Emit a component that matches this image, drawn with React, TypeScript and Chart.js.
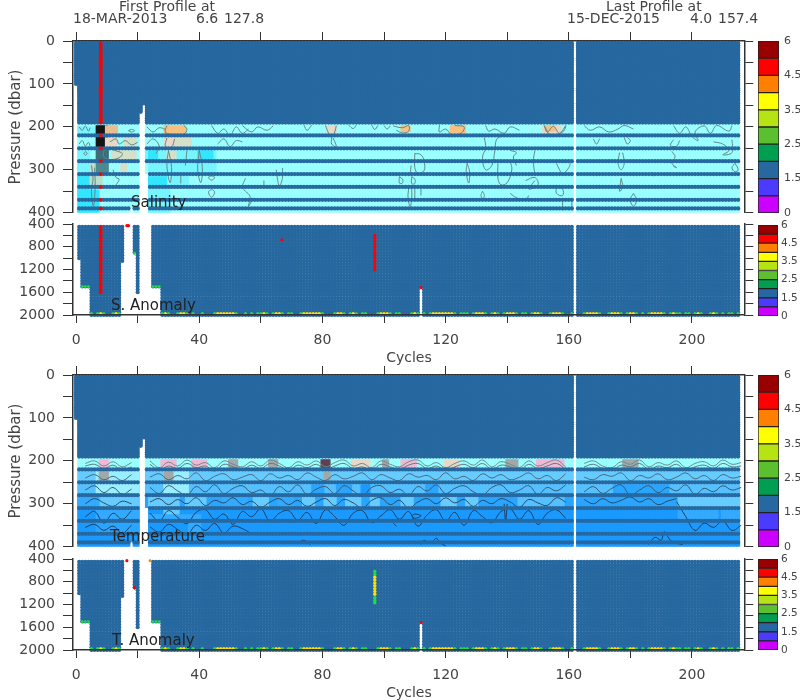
import React, { useEffect, useRef } from "react";
import { Chart, registerables } from "chart.js";
Chart.register(...registerables);

// ---------- data ----------
const firstCycle = 0;
const lastCycle = 215;
const gapCycles = [162];
const upperSolidLevels = [5,10,15,20,25,30,35,40,45,50,55,60,65,70,75,80,85,90,95,100,105,110,115,120,125,130,135,140,145,150,155,160,165,170,175,180,185,190];
const upperSparseLevels = [220,250,280,310,340,370,390];
const lowerLevels = [450,500,550,600,650,700,750,800,850,900,950,1000,1050,1100,1150,1200,1250,1300,1350,1400,1450,1500,1550,1600,1650,1700,1750,1800,1850,1900,1950];
const lowerBottomLevel = 2000;
const bottomStripLevel = 1975;
// deepest pressure reached by the cycles that do not reach the axis floor
const upperDepthLimits: Record<number, number> = { 0: 100, 18: 385, 21: 165, 22: 145, 23: 305 };
const lowerDepthLimits: Record<number, number> = { 0: 0, 1: 1020, 2: 1500, 3: 1500, 4: 1500, 15: 1085, 16: 420, 17: 420, 18: 0, 19: 914, 20: 1615, 21: 0, 22: 0, 23: 0, 24: 430, 25: 1500, 26: 1500, 27: 1500, 112: 1520 };

const salinityRedCycle = [8];
const salinityDeepRed: number[] = [450,500,550,600,650,700,750,800,850,900,950,1000,1050,1100,1150,1200,1250,1300,1350,1400,1450,1500,1550,1600];
const salinityRedColumn97 = [600,650,700,750,800,850,900,950,1000,1050,1100,1150,1200];
const salinityRedDots = [[66.8, 680], [112, 1520], [16.5, 430], [17, 430]];
const tempGreenColumn97 = [620,670,1080,1130,1170];
const tempYellowColumn97 = [720,770,820,870,920,970,1020];
const tempRedDots = [[112, 1520], [16.5, 430], [19, 905]];
const tempOrangeDots = [[24, 430]];
const shelfGreenDots = [[2,1500],[3,1500],[4,1500],[25,1500],[26,1500],[27,1500],[19,914]];
const bottomSegments = [[5,5],[7,9],[12,14],[28,30],[33,36],[38,38],[41,41],[45,52],[55,55],[57,57],[59,59],[60,62],[64,67],[69,70],[73,80],[84,87],[89,91],[93,94],[98,102],[104,105],[109,111],[113,113],[115,123],[125,126],[127,127],[129,133],[135,137],[139,143],[145,146],[148,151],[154,158],[161,161],[165,170],[173,177],[179,182],[184,184],[186,191],[193,195],[196,196],[198,199],[201,203],[206,208],[210,210],[212,213],[215,215]];

const paleCyan = "#99FFFF", midCyan = "#77F5FF", brightCyan = "#33E6FF";
const pale = "#99EEFF", light = "#66CCFF", mid = "#55C0FF", deep = "#2AA5FF", deepest = "#1A99FF", midLow = "#33AAFF";
const tan = "#E6BE90", orangeTan = "#F5C080", beige = "#D5E0C8", black = "#151515", teal = "#3A6E78", teal2 = "#4A8A90", grayCream = "#BBDDCC";
const pink = "#F0B8D4", grayPatch = "#A0A8A8", darkPatch = "#604050", cream = "#E6D9C8";

const salinityBands: [number, number, string][] = [[195, 404, paleCyan]];
const salinityPatches: [number, number, number, number, string][] = [
  [1,6,200,220,midCyan],[1,4,255,280,midCyan],[1,6,285,345,midCyan],[1,5,312,340,brightCyan],[1,7,345,404,brightCyan],[5,7,285,345,grayCream],
  [22,29,255,280,midCyan],[24,30,285,310,midCyan],[29,45,255,280,midCyan],[30,45,285,310,midCyan],[40,44,255,280,brightCyan],[24,29,316,340,brightCyan],[24,30,345,404,midCyan],[31,36,316,340,midCyan],[24,26,255,280,brightCyan],
  [7,10,197,220,black],[7,10,222,250,black],[7,10,252,280,teal],[7,10,283,310,teal2],[7,8,312,345,grayCream],
  [10,13,197,220,tan],[10,13,225,250,cream],[12,19,255,280,beige],[15,16,285,310,beige],[16,19,225,250,beige],
  [29,35,197,220,orangeTan],[29,33,225,250,cream],[33,37,225,250,beige],[30,32,255,280,beige],
  [82,84,197,222,cream],[106,108,197,212,orangeTan],[122,126,197,215,orangeTan],[152,157,197,215,cream],[153,155,197,210,orangeTan],
];
const temperatureBands: [number, number, string][] = [[195,220,paleCyan],[220,255,light],[255,283,mid],[283,312,deep],[312,404,deepest]];
const temperaturePatches: [number, number, number, number, string][] = [
  [7,20,220,283,pale],[7,20,283,312,light],[7,20,312,340,midLow],[7,20,340,372,deep],[1,7,283,312,midLow],
  [29,36,220,283,pale],[29,33,283,330,light],[24,29,283,312,light],[38,48,255,283,mid],[36,42,283,312,light],[43,46,283,312,deep],[24,40,325,340,midLow],[37,40,345,372,midLow],
  [48,55,283,312,midLow],[58,62,283,312,light],[66,70,283,312,midLow],
  [77,80,255,283,deep],[85,89,255,283,deep],[93,95,255,283,deepest],[114,117,255,283,deep],
  [74,77,283,312,light],[81,84,283,312,light],[88,89,283,312,light],[90,92,283,312,light],[96,98,283,312,light],[106,109,283,312,light],[119,123,283,312,light],[127,130,283,312,light],
  [144,158,283,312,mid],[175,192,255,283,deep],[196,215,283,312,light],[196,208,312,340,midLow],[210,215,312,340,midLow],
  [8,10,197,220,pink],[28,32,197,220,pink],[38,42,197,220,pink],[50,52,197,220,grayPatch],[63,65,197,220,grayPatch],
  [80,82,197,220,darkPatch],[90,95,197,220,cream],[100,101,197,220,grayPatch],[106,110,197,220,pink],[120,124,197,220,cream],[140,143,197,220,grayPatch],
  [150,158,197,220,pink],[178,182,197,220,grayPatch],[8,10,225,250,grayPatch],[29,31,225,250,grayPatch],[81,82,225,250,grayPatch],
];

const salinityContours: number[][][] = [
  [[1,200],[2,208],[3,198],[4,210],[4.6,202]],[[1,240],[2,232],[3,245],[4,236],[4.6,246]],[[2.5,262],[3,258],[3.6,262],[3,266],[2.5,262]],
  [[9,255],[11,252],[13,256],[15,262],[14,272],[11,276],[9,270],[9,255]],[[11,235],[13,228],[14,240],[16,232],[18,242],[20,236]],
  [[5,290],[5.5,320],[5,350],[5.6,385],[6.2,340],[6,295]],[[12,300],[13,318],[14,322],[13,335]],[[17,209],[18,206],[19,209],[18,212],[17,209]],
  [[23,240],[25,228],[27,245],[26,262]],[[29.5,197],[29,212],[31,218],[35,217],[36,205],[35,197]],[[29.5,226],[29,245],[31,247],[32,228]],
  [[30,255],[29.5,290],[30.5,330],[31,295],[30,255]],[[40,255],[39.5,300],[40.5,330],[41,295],[40,255]],
  [[44,197],[46,215],[48,205],[50,220],[52,200],[54,215],[56,205]],[[46,240],[48,228],[50,246],[52,232],[54,235]],
  [[44,314],[45,318],[44,324],[43,318],[44,314]],[[44,345],[45,352],[44,364],[43,352],[44,345]],
  [[55,320],[54,340],[55,350],[56.5,362],[56,385],[57.5,365]],[[61,325],[61,338]],[[65,300],[65.5,325],[66,338],[67,320],[67,296]],
  [[34,310],[34,332]],[[36,255],[35.5,290]],[[54,197],[57,212],[59,200],[62,208],[64,198]],[[23,200],[25,212],[27,202],[29,206]],
  [[74,196],[75,208],[76.5,196]],[[81,197],[82,215],[83,225],[84,212],[84.5,197]],[[83,226],[83,240],[84.5,246],[83.5,226]],
  [[88.5,196],[90,204],[91,196]],[[96,196],[97,206],[98,197]],[[100,197],[101,205],[102,198]],
  [[103,198],[106,202],[108,197],[108,210],[106,214],[104,208]],[[118,196],[118,212],[120,205],[122,218],[125,215],[126,200],[123,197]],
  [[133,197],[134,210],[136,205],[139,215],[141,200],[144,208]],[[105,316],[106,322],[106,331],[105,331],[105,316]],
  [[108.8,290],[108.5,310]],[[110,262],[112,265],[113,280],[113,302],[111,308],[110,295],[110,262]],[[109,316],[110,322],[110,332],[109,332],[109,316]],
  [[108,343],[107.8,365],[108.5,386],[109,365],[109,343]],[[110,345],[110,370]],[[127,285],[127.8,305],[127.5,331],[126.7,305],[127,285]],
  [[132.6,225],[133,250],[132,270],[133,300],[135,290],[136,255],[136.5,230],[138,222]],[[137,285],[137,320],[138,335],[140,330],[141.5,300],[141,280]],
  [[141,255],[143,260],[142,270],[143,290]],[[112,345],[112,360]],[[132,350],[132.6,360],[132,368],[131.5,360],[132,350]],[[141,355],[143,365],[146,370],[147,360]],
  [[152,197],[153,212],[155,199],[157,215],[159,197],[158,212],[154,218],[152,197]],[[149,255],[148.5,280],[149,310]],[[156,285],[157,300],[158,310],[160,295],[160.5,285]],
  [[146,325],[149,318],[150,335],[147,345],[149,325]],[[156,340],[158,345],[158,360],[156,355],[156,340]],[[158,370],[158,395]],[[161,370],[161,395]],
  [[165,197],[167,208],[170,200],[173,212],[176,205],[178,197],[181,205]],[[168,228],[169,240],[170,228]],[[178,225],[179,240],[180,232],[179,225]],
  [[176.5,260],[176,285],[177,300],[178,285],[177.5,260]],[[177,320],[177.5,340],[176.5,350],[177,320]],[[181,355],[182,370],[181,385],[180,370],[181,355]],
  [[194,197],[196,215],[198,200],[200,222],[202,232],[201,212],[204,198],[206,215],[208,197],[212,210],[213,197]],[[194,230],[193,243],[195,245],[196,232]],
  [[193.5,257],[194.5,270],[193.5,285],[195,295],[194,292]],[[207,235],[210,240],[212,255],[210,265],[213,260],[213,230]],[[214,285],[215,300],[214,305],[213,295],[214,285]],[[187,305],[187.5,315]],
];

const contourStep = 3;
const tempContourA = [null,206,200,212,202,214,204,null,200,216, 203,212,198,210,204,216,200,208,214,202, 212,198,206,216,202,210,200,214,204,198, 212,206,216,200,208,214,202,198,212,204, 216,206,200,210,198,214,202,208,216,200, 212,204,198,214,null,206,200,212,216,202, 208,198,214,204,210,200,216,206,202,212, 198,208,204];
const tempContourB = [null,212,208,218,210,222,214,null,208,222, 212,218,206,216,212,224,208,214,220,210, 218,206,212,222,210,216,208,220,212,206, 218,214,222,208,214,220,210,206,218,212, 222,214,208,216,206,220,210,214,222,208, 218,212,206,220,null,214,208,218,222,210, 214,206,220,212,216,208,222,214,210,218, 206,214,212];
const tempContourC = [null,240,232,244,236,246,232,null,238,230, 244,234,242,228,246,236,230,244,238,232, 246,230,240,234,244,228,238,246,232,242, 236,228,244,232,240,246,230,238,234,244, 228,242,236,246,230,240,232,244,238,228, 242,234,246,230,null,238,244,232,236,228, 246,234,240,230,244,238,228,242,234,246, 232,240,236];
const tempContourD = [null,268,258,274,262,278,266,null,262,276, 258,270,280,260,272,256,276,264,258,274, 268,282,260,272,256,278,266,260,276,258, 270,282,262,258,274,266,280,260,270,256, 276,264,258,272,280,262,256,274,268,258, 278,262,270,256,null,272,260,276,264,256, 280,268,258,274,262,270,256,278,264,272, 258,268,262];
const tempContourE = [null,300,288,298,306,294,300,null,296,288, 302,290,300,286,304,292,298,286,302,294, 308,296,288,302,292,306,296,288,304,290, 298,310,292,286,302,292,310,296,288,300, 286,298,290,306,292,300,288,296,308,290, 298,304,286,296,null,290,300,288,298,292, 284,296,288,302,294,288,null,null,null,null, null,null,null];
const tempContourF = [null,330,318,345,322,336,316,null,322,340, 316,332,346,320,314,336,324,348,318,330, 312,340,322,316,338,320,346,314,330,350, 322,316,344,328,314,336,318,352,326,314, 340,320,350,316,330,344,318,312,336,316, 348,322,314,334,null,null,null,null,null,null, null,null,null,null,null,295,330,362,345,355, 340,362,350];
const tempContourG = [null,355,348,362,352,368,350,null,354,366, 348,360,372,350,362,346,368,352,358,370];
const tempContourBits: number[][][] = [
  [[112,395],[113,385],[115,393],[117,380],[118,390],[120,398]],[[186,395],[188,378],[190,385],[191,365],[193,385],[195,392],[197,395]],
  [[109,328],[110,324],[112,328],[110,334],[109,328]],[[139,300],[139.5,340],[140,300]],[[103,345],[104,352]],[[72,392],[74,385],[76,395]],
];

const colorbarColors = ["#CC00FF","#4B3BFF","#26689F","#009E50","#5CBF2F","#B5E314","#FFFF00","#FF8000","#FF0000","#990000"];
const colorbarLabels = ["0","1.5","2.5","3.5","4.5","6"];
const levelColor = "#26689F";

// ---------- builders ----------
const ink = "#333333";
const xMin = -1, xMax = 217;
const upperDot = 2.15, lowerDot = 2.05;
const isGap = (c: number) => gapCycles.includes(c);
const allCycles = Array.from({ length: lastCycle - firstCycle + 1 }, (_, i) => firstCycle + i).filter((c) => !isGap(c));
const upperLimit = (c: number) => (c in upperDepthLimits ? upperDepthLimits[c] : 400);
const lowerLimit = (c: number) => (c in lowerDepthLimits ? lowerDepthLimits[c] : 2000);
const pts = (cycles: number[], levels: number[], limit: (c: number) => number) => {
  const out: { x: number; y: number }[] = [];
  for (const c of cycles) for (const p of levels) if (p <= limit(c)) out.push({ x: c, y: p });
  return out;
};
const dots = (data: any[], color: string, r: number) => ({ type: "scatter", data, pointRadius: r, pointBorderWidth: 0, pointBackgroundColor: color, showLine: false, clip: false });
const cells = (c0: number, c1: number, p0: number, p1: number, color: string) => {
  const data: any[] = [];
  for (let c = c0; c <= Math.min(c1, lastCycle); c++) {
    if (isGap(c) || c < 1) continue;
    const lim = upperLimit(c);
    if (lim < p0) continue;
    const bottom = lim >= 400 ? p1 : Math.min(p1, lim + 4);
    data.push({ x: c, y: [p0, bottom] });
  }
  return { type: "bar", data, backgroundColor: color, barThickness: 3.3, borderWidth: 0, grouped: false };
};
const contourLine = (data: any[], color: string) => ({ type: "line", data, borderColor: color, borderWidth: 1, pointRadius: 0, tension: 0.4, spanGaps: false, fill: false });
const seriesLine = (vals: (number | null)[], color: string) => contourLine(vals.map((v, i) => ({ x: i * contourStep, y: v })), color);
const pairLine = (pp: number[][], color: string) => contourLine(pp.map(([x, y]) => ({ x, y })), color);

function upperDatasets(kind: "sal" | "temp") {
  const layers: any[] = [];
  const bands = kind === "sal" ? salinityBands : temperatureBands;
  const patches = kind === "sal" ? salinityPatches : temperaturePatches;
  for (const [a, b, col] of bands) layers.push(cells(1, lastCycle, a, b, col));
  for (const [c0, c1, a, b, col] of patches) layers.push(cells(c0, c1, a, b, col));
  if (kind === "sal") {
    for (const line of salinityContours) layers.push(pairLine(line, "#668686"));
  } else {
    layers.push(seriesLine(tempContourA, "#6F8A90"));
    layers.push(seriesLine(tempContourB, "#5F7A84"));
    layers.push(seriesLine(tempContourC, "#4A6A78"));
    layers.push(seriesLine(tempContourD, "#38586C"));
    layers.push(seriesLine(tempContourE, "#2A4A62"));
    layers.push(seriesLine(tempContourF, "#1C3F5E"));
    layers.push(seriesLine(tempContourG, "#1C3F5E"));
    for (const line of tempContourBits) layers.push(pairLine(line, "#1C3F5E"));
  }
  layers.push(dots(pts(allCycles, upperSolidLevels, upperLimit), levelColor, upperDot));
  layers.push(dots(pts(allCycles, upperSparseLevels, upperLimit), levelColor, upperDot));
  if (kind === "sal") {
    layers.push(dots(pts(salinityRedCycle, upperSolidLevels, () => 400), "#FF0000", 1.9));
    layers.push(dots(pts(salinityRedCycle, upperSparseLevels, () => 400), "#FF0000", 1.9));
  }
  return layers.reverse();
}

function lowerDatasets(kind: "sal" | "temp") {
  const layers: any[] = [];
  const green: number[] = [], yellow: number[] = [];
  for (const [a, b] of bottomSegments) {
    for (let c = a; c <= b; c++) {
      if (c === a || c === b) green.push(c); else yellow.push(c);
    }
  }
  const floorCycles = allCycles.filter((c) => lowerLimit(c) >= 2000);
  layers.push(dots(floorCycles.map((c) => ({ x: c, y: lowerBottomLevel })), levelColor, lowerDot));
  layers.push(dots(pts(allCycles, lowerLevels, lowerLimit), levelColor, lowerDot));
  layers.push(dots(floorCycles.filter((c) => green.includes(c)).map((c) => ({ x: c, y: bottomStripLevel })), "#22DD44", 1.6));
  layers.push(dots(floorCycles.filter((c) => yellow.includes(c)).map((c) => ({ x: c, y: bottomStripLevel })), "#FFE000", 1.6));
  layers.push(dots(shelfGreenDots.map(([x, y]) => ({ x, y })), "#22DD44", 1.4));
  const mk = (rows: number[][]) => rows.map(([x, y]) => ({ x, y }));
  if (kind === "sal") {
    layers.push(dots(salinityDeepRed.map((y) => ({ x: salinityRedCycle[0], y })), "#FF0000", 1.9));
    layers.push(dots(salinityRedColumn97.map((y) => ({ x: 97, y })), "#FF0000", 1.7));
    layers.push(dots(mk(salinityRedDots), "#FF0000", 1.6));
  } else {
    layers.push(dots(tempGreenColumn97.map((y) => ({ x: 97, y })), "#22DD44", 1.7));
    layers.push(dots(tempYellowColumn97.map((y) => ({ x: 97, y })), "#FFE000", 1.7));
    layers.push(dots(mk(tempRedDots), "#FF0000", 1.6));
    layers.push(dots(mk(tempOrangeDots), "#FF8000", 1.4));
  }
  return layers.reverse();
}

const axisFont = { family: "'DejaVu Sans'", size: 14 };
const fixW = (w: number) => (s: any) => { s.width = w; };
const fixH = (h: number) => (s: any) => { s.height = h; };
const tickStyle = (len: number) => ({ drawOnChartArea: false, drawTicks: true, tickLength: len, color: ink, lineWidth: 1, z: 1 });
const border = { display: true, color: ink, width: 1.5, z: 1 };

const leftW = 60, rightW = 10, topH = 10, bottomH = 35;

function panelConfig(top: number, bottom: number, range: [number, number], step: number, labelEvery: number, isUpper: boolean, datasets: any[]) {
  const xTicks = { stepSize: 20, includeBounds: false, autoSkip: false, maxRotation: 0, color: "#444", font: axisFont, padding: 9 };
  const scales: any = {
    x: isUpper
      ? { type: "linear", min: xMin, max: xMax, display: false, offset: false }
      : { type: "linear", min: xMin, max: xMax, position: "bottom", afterFit: fixH(bottomH), offset: false, grid: tickStyle(8), border,
          ticks: { ...xTicks, z: 1, callback: (v: number) => (v % 40 === 0 ? String(v) : "") } },
    y: { type: "linear", reverse: true, min: range[0], max: range[1], position: "left", afterFit: fixW(leftW), grid: tickStyle(10), border,
         ticks: { stepSize: step, includeBounds: false, autoSkip: false, color: "#444", font: axisFont, padding: 8, z: 1, callback: (v: number) => (v % labelEvery === 0 ? String(v) : "") } },
    y2: { type: "linear", reverse: true, min: range[0], max: range[1], position: "right", afterFit: fixW(rightW), grid: tickStyle(9), border,
          ticks: { stepSize: step, includeBounds: false, autoSkip: false, callback: () => "" } },
  };
  if (isUpper) {
    scales.x2 = { type: "linear", axis: "x", min: xMin, max: xMax, position: "top", afterFit: fixH(topH), grid: tickStyle(9), border,
      ticks: { stepSize: 20, includeBounds: false, autoSkip: false, callback: () => "" } };
  }
  return {
    type: "scatter",
    data: { datasets },
    options: {
      animation: false, responsive: false, maintainAspectRatio: false, events: [],
      layout: { padding: { left: 73 - leftW, right: 800 - 744.3 - rightW, top: isUpper ? top - topH : top, bottom: isUpper ? 700 - bottom : 700 - bottom - bottomH } },
      plugins: { legend: { display: false }, tooltip: { enabled: false }, title: { display: false } },
      scales,
    },
  };
}

function colorbarConfig(top: number, bottom: number, left: number, right: number, fontSize: number, pad: number) {
  return {
    type: "bar",
    data: {
      labels: [""],
      datasets: colorbarColors.map((c, i) => ({ data: [[i, i + 1]], backgroundColor: c, borderColor: "#222", borderWidth: 1, borderSkipped: false, barPercentage: 1, categoryPercentage: 1, grouped: false })),
    },
    options: {
      animation: false, responsive: false, maintainAspectRatio: false, events: [],
      layout: { padding: { left, right: 0, top, bottom: 700 - bottom } },
      plugins: { legend: { display: false }, tooltip: { enabled: false } },
      scales: {
        x: { display: false },
        y: { type: "linear", min: 0, max: 10, position: "right", afterFit: fixW(800 - right),
             grid: { display: false, drawTicks: false }, border: { display: false },
             ticks: { stepSize: 2, includeBounds: false, autoSkip: false, color: "#444", padding: pad, font: { family: "'DejaVu Sans'", size: fontSize }, callback: (v: number) => colorbarLabels[v / 2] } },
      },
    },
  };
}

const configs = () => [
  panelConfig(41, 212.7, [0, 400], 50, 100, true, upperDatasets("sal")),
  panelConfig(224, 315, [400, 2000], 200, 400, false, lowerDatasets("sal")),
  panelConfig(375, 546.7, [0, 400], 50, 100, true, upperDatasets("temp")),
  panelConfig(559, 650, [400, 2000], 200, 400, false, lowerDatasets("temp")),
  colorbarConfig(41, 213, 758, 779, 11, 5),
  colorbarConfig(225, 316, 758, 778, 10.5, 3),
  colorbarConfig(375, 547, 758, 779, 11, 5),
  colorbarConfig(559, 650, 758, 778, 10.5, 3),
];

function Layer({ config }: { config: any }) {
  const ref = useRef<HTMLCanvasElement>(null);
  useEffect(() => {
    const ch = new Chart(ref.current as any, config);
    return () => ch.destroy();
  }, []);
  return <canvas ref={ref} width={800} height={700} style={{ position: "absolute", left: 0, top: 0, width: 800, height: 700 }} />;
}

const T = ({ x, y, children, color = "#444", rotate, center }: any) => (
  <div style={{ position: "absolute", left: x, top: y, font: rotate ? "15px 'DejaVu Sans'" : "14px 'DejaVu Sans'", color, whiteSpace: "nowrap", lineHeight: "16px",
    transform: rotate ? "translate(-50%,-50%) rotate(-90deg)" : center ? "translate(-50%,-50%)" : "translate(0,-50%)" }}>{children}</div>
);
const P = ({ x, y, children }: any) => (
  <div style={{ position: "absolute", left: x, top: y, font: "15px 'DejaVu Sans'", color: "#222", whiteSpace: "nowrap", lineHeight: "16px", transform: "translate(0,-50%)" }}>{children}</div>
);

export default function App() {
  const list = configs();
  return (
    <div style={{ position: "absolute", left: 0, top: 0, width: 800, height: 700, overflow: "hidden", background: "#fff" }}>
      {list.map((c, i) => <Layer key={i} config={c} />)}
      <T x={119} y={6}>First Profile at</T>
      <T x={73} y={18}>18-MAR-2013</T>
      <T x={196} y={18}>6.6</T>
      <T x={224} y={18}>127.8</T>
      <T x={606} y={6}>Last Profile at</T>
      <T x={567} y={18}>15-DEC-2015</T>
      <T x={690} y={18}>4.0</T>
      <T x={718} y={18}>157.4</T>
      <T x={15} y={127} rotate>Pressure (dbar)</T>
      <T x={15} y={461} rotate>Pressure (dbar)</T>
      <T x={409} y={357} center>Cycles</T>
      <T x={409} y={692} center>Cycles</T>
      <P x={131} y={202}>Salinity</P>
      <P x={111} y={305}>S. Anomaly</P>
      <P x={110} y={536}>Temperature</P>
      <P x={112} y={640}>T. Anomaly</P>
    </div>
  );
}
